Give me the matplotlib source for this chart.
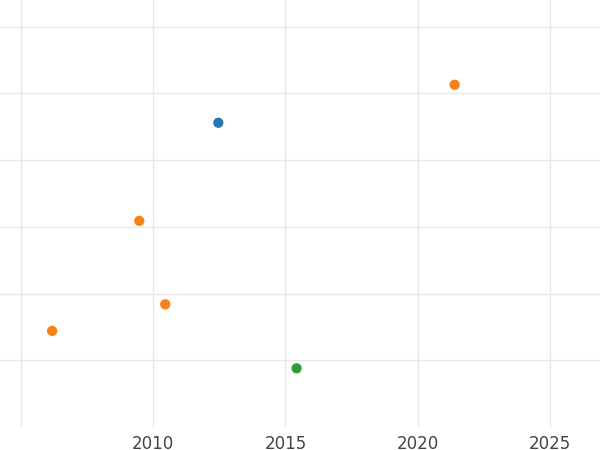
import matplotlib
matplotlib.use("Agg")
import matplotlib.pyplot as plt

years = [2012.46, 2021.4, 2009.47, 2010.45, 2006.17, 2015.42]
values = [4.56, 5.13, 3.09, 1.84, 1.44, 0.88]
colors = ["#1f77b4", "#ff7f0e", "#ff7f0e", "#ff7f0e", "#ff7f0e", "#2ca02c"]
xticks = [2010, 2015, 2020, 2025]

fig = plt.figure(figsize=(6, 4.5), dpi=100)
ax = fig.add_axes([0, 23/450, 1, 427/450])
ax.set_xlim(2004.2, 2026.9)
ax.set_ylim(0, 6.4)
ax.set_xticks([2005] + xticks)
ax.set_xticklabels([""] + [str(t) for t in xticks])
ax.set_yticks([1, 2, 3, 4, 5, 6])
ax.set_yticklabels([])
ax.grid(True, color="#e8e8e8", linewidth=1)
ax.set_axisbelow(True)
for s in ax.spines.values():
    s.set_visible(False)
ax.tick_params(length=0, labelsize=12, labelcolor="#444444", pad=6)
ax.scatter(years, values, c=colors, s=40, zorder=3)
fig.savefig("out.png")
